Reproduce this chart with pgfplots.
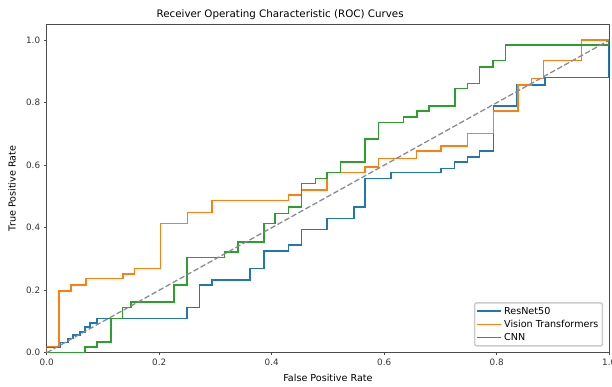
\documentclass[border=0pt]{standalone}
\usepackage{fontspec}
\setmainfont{DejaVu Sans}
\usepackage{pgfplots}
\pgfplotsset{compat=1.18}
\definecolor{mblue}{HTML}{1F77B4}
\definecolor{morange}{HTML}{FF7F0E}
\definecolor{mgreen}{HTML}{2CA02C}
\definecolor{mgray}{HTML}{8A8A9A}
\begin{document}
\begin{tikzpicture}
\begin{axis}[
  name=ax,
  scale only axis,
  width=562.5pt, height=328.1pt,
  xmin=0, xmax=1, ymin=0, ymax=1.05,
  xtick={0,0.2,0.4,0.6,0.8,1.0},
  ytick={0,0.2,0.4,0.6,0.8,1.0},
  tick align=outside, tick pos=left,
  major tick length=2.5pt,
  every tick/.style={black!70, line width=0.6pt},
  axis line style={black!70, line width=0.7pt},
  /pgf/number format/assume math mode=true,
  xticklabel={\pgfmathprintnumber[fixed,fixed zerofill,precision=1]{\tick}},
  yticklabel={\pgfmathprintnumber[fixed,fixed zerofill,precision=1]{\tick}},
  ticklabel style={font=\fontsize{8.8}{10}\selectfont, text=black!80},
  title={Receiver Operating Characteristic (ROC) Curves},
  title style={at={(0.415,1)}, font=\fontsize{10.3}{12}\selectfont, yshift=-5pt},
  xlabel={False Positive Rate},
  ylabel={True Positive Rate},
  label style={font=\fontsize{9.6}{11}\selectfont},
  xlabel style={yshift=-1pt},
  ylabel style={yshift=3pt},
  legend cell align=left,
  legend style={at={(1,0)}, anchor=south east, xshift=-6pt, yshift=6pt,
    draw=black!20, rounded corners=2pt, font=\fontsize{9.6}{11}\selectfont,
    row sep=0.5pt, inner sep=2pt},
  legend image code/.code={\draw[#1] (0pt,0pt) -- (24pt,0pt);},
  line width=1.5pt,
]
\addplot[mblue, line join=miter] coordinates {
(0,0)(0,0.017)(0.024,0.017)(0.024,0.033)(0.038,0.033)(0.038,0.045)(0.047,0.045)(0.047,0.056)(0.059,0.056)(0.059,0.067)(0.068,0.067)(0.068,0.083)(0.077,0.083)(0.077,0.095)(0.089,0.095)(0.089,0.11)(0.249,0.11)(0.249,0.145)(0.272,0.145)(0.272,0.217)(0.294,0.217)(0.294,0.233)(0.361,0.233)(0.361,0.27)(0.386,0.27)(0.386,0.325)(0.43,0.325)(0.43,0.345)(0.453,0.345)(0.453,0.395)(0.498,0.395)(0.498,0.43)(0.546,0.43)(0.546,0.467)(0.566,0.467)(0.566,0.558)(0.612,0.558)(0.612,0.576)(0.701,0.576)(0.701,0.59)(0.725,0.59)(0.725,0.611)(0.748,0.611)(0.748,0.627)(0.769,0.627)(0.769,0.645)(0.794,0.645)(0.794,0.789)(0.836,0.789)(0.836,0.857)(0.886,0.857)(0.886,0.88)(1,0.88)(1,1)
};
\addlegendentry{ResNet50}
\addplot[morange, line join=miter] coordinates {
(0,0)(0,0.02)(0.022,0.02)(0.022,0.198)(0.043,0.198)(0.043,0.217)(0.07,0.217)(0.07,0.237)(0.136,0.237)(0.136,0.252)(0.156,0.252)(0.156,0.269)(0.202,0.269)(0.202,0.413)(0.25,0.413)(0.25,0.449)(0.294,0.449)(0.294,0.487)(0.43,0.487)(0.43,0.505)(0.453,0.505)(0.453,0.52)(0.498,0.52)(0.498,0.577)(0.566,0.577)(0.566,0.595)(0.59,0.595)(0.59,0.622)(0.657,0.622)(0.657,0.645)(0.701,0.645)(0.701,0.662)(0.748,0.662)(0.748,0.702)(0.794,0.702)(0.794,0.773)(0.838,0.773)(0.838,0.857)(0.862,0.857)(0.862,0.878)(0.883,0.878)(0.883,0.935)(0.951,0.935)(0.951,1.0)(1,1)
};
\addlegendentry{Vision Transformers}
\addplot[mgreen, line join=miter] coordinates {
(0,0)(0.068,0)(0.068,0.019)(0.089,0.019)(0.089,0.034)(0.114,0.034)(0.114,0.11)(0.135,0.11)(0.135,0.145)(0.15,0.145)(0.15,0.163)(0.226,0.163)(0.226,0.217)(0.249,0.217)(0.249,0.305)(0.316,0.305)(0.316,0.323)(0.34,0.323)(0.34,0.355)(0.386,0.355)(0.386,0.414)(0.406,0.414)(0.406,0.446)(0.43,0.446)(0.43,0.467)(0.453,0.467)(0.453,0.542)(0.478,0.542)(0.478,0.558)(0.498,0.558)(0.498,0.577)(0.522,0.577)(0.522,0.611)(0.566,0.611)(0.566,0.684)(0.59,0.684)(0.59,0.737)(0.634,0.737)(0.634,0.755)(0.658,0.755)(0.658,0.773)(0.68,0.773)(0.68,0.79)(0.726,0.79)(0.726,0.846)(0.748,0.846)(0.748,0.862)(0.769,0.862)(0.769,0.915)(0.793,0.915)(0.793,0.935)(0.816,0.935)(0.816,0.985)(1,0.985)(1,1)
};
\addlegendentry{CNN}
\addplot[mgray, dash pattern=on 5.5pt off 2.5pt, line width=1.3pt, forget plot] coordinates {(0,0)(1,1)};
\end{axis}
\pgfresetboundingbox
\path ([shift={(-46.7pt,-34.3pt)}]ax.south west) rectangle ([shift={(2.8pt,24.6pt)}]ax.north east);
\end{tikzpicture}
\end{document}
